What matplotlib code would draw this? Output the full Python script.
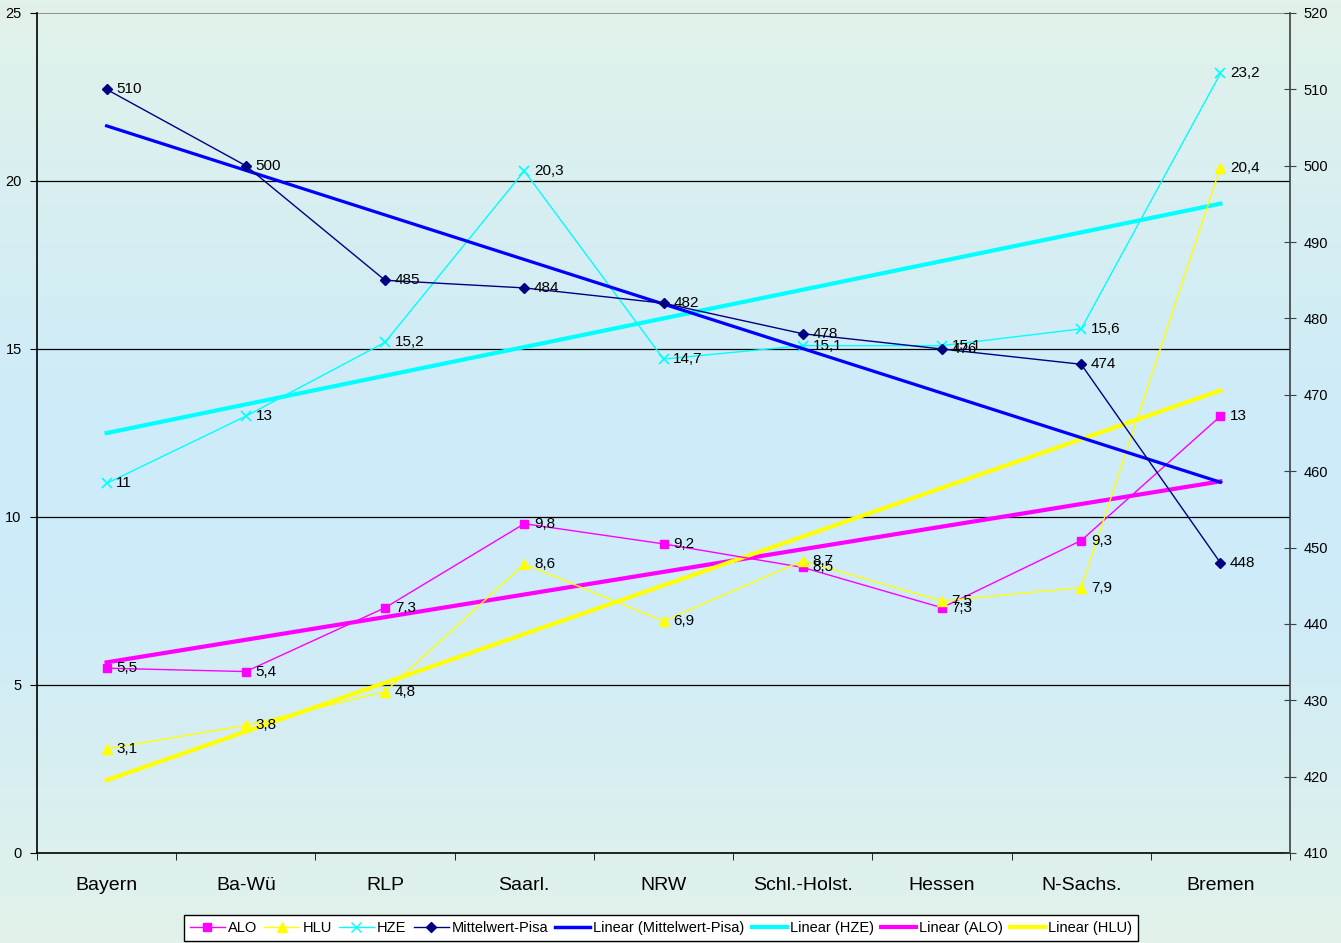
import numpy as np
import matplotlib
matplotlib.use("Agg")
import matplotlib.pyplot as plt
from matplotlib.colors import LinearSegmentedColormap
from matplotlib.lines import Line2D

plt.rcParams['font.family'] = ['Liberation Sans', 'DejaVu Sans']

categories = ["Bayern", "Ba-Wü", "RLP", "Saarl.", "NRW", "Schl.-Holst.", "Hessen", "N-Sachs.", "Bremen"]
alo = [5.5, 5.4, 7.3, 9.8, 9.2, 8.5, 7.3, 9.3, 13]
hlu = [3.1, 3.8, 4.8, 8.6, 6.9, 8.7, 7.5, 7.9, 20.4]
hze = [11, 13, 15.2, 20.3, 14.7, 15.1, 15.1, 15.6, 23.2]
pisa = [510, 500, 485, 484, 482, 478, 476, 474, 448]

W, H = 1341, 943
fig = plt.figure(figsize=(W / 100, H / 100), dpi=100)

# background gradient
bg = fig.add_axes([0, 0, 1, 1], zorder=-10)
cmap = LinearSegmentedColormap.from_list("bg", [(0.0, "#e2f2ea"), (0.45, "#cdebf9"), (0.62, "#cdebf9"), (1.0, "#e2f2ea")])
grad = np.linspace(0, 1, 256).reshape(-1, 1)
bg.imshow(grad, aspect="auto", cmap=cmap, extent=[0, 1, 0, 1])
bg.axis("off")

left, right = 37 / W, 1290 / W
bottom, top = 1 - 853 / H, 1 - 13 / H
ax = fig.add_axes([left, bottom, right - left, top - bottom])
ax.patch.set_alpha(0)
ax2 = ax.twinx()
ax2.patch.set_alpha(0)

x = np.arange(len(categories))

def fmt(v):
    s = ("%g" % v).replace(".", ",")
    return s

# data series
c_alo, c_hlu, c_hze, c_pisa = "#ff00ff", "#ffff00", "#00ffff", "#000080"
ax.plot(x, alo, color=c_alo, lw=1, marker="s", ms=6, mec=c_alo, mfc=c_alo, zorder=3)
ax.plot(x, hlu, color=c_hlu, lw=1, marker="^", ms=7, mec=c_hlu, mfc=c_hlu, zorder=3)
ax.plot(x, hze, color=c_hze, lw=1, marker="x", ms=7, mew=1.2, mec=c_hze, zorder=3)
ax2.plot(x, pisa, color=c_pisa, lw=1, marker="D", ms=5, mec=c_pisa, mfc=c_pisa, zorder=3)

# linear trendlines
xf = x + 1.0
for vals, col, a in [(hze, c_hze, ax), (alo, c_alo, ax), (hlu, c_hlu, ax)]:
    p = np.polyfit(xf, vals, 1)
    a.plot(x, np.polyval(p, xf), color=col, lw=3, zorder=2)
p = np.polyfit(xf, pisa, 1)
ax2.plot(x, np.polyval(p, xf), color="#0000ff", lw=2.3, zorder=2)

# labels
for series, a in [(alo, ax), (hlu, ax), (hze, ax), (pisa, ax2)]:
    for xi, v in zip(x, series):
        a.annotate(fmt(v), (xi, v), xytext=(7, 0), textcoords="offset points",
                   ha="left", va="center", fontsize=11, color="black", zorder=5)

ax.set_xlim(-0.5, len(categories) - 0.5)
ax.set_ylim(0, 25)
ax2.set_ylim(410, 520)
ax.set_yticks(np.arange(0, 26, 5))
ax2.set_yticks(np.arange(410, 521, 10))
ax.set_xticks(x)
ax.set_xticklabels(categories, fontsize=14)
ax.set_xticks(np.arange(-0.5, len(categories)), minor=True)
ax.tick_params(axis="x", which="major", length=0, pad=17)
ax.tick_params(axis="x", which="minor", length=5, direction="out", color="black")
ax.tick_params(axis="y", labelsize=10.5, length=5, direction="out", pad=6)
ax2.tick_params(axis="y", labelsize=10.5, length=8, direction="inout", pad=6, color="#404040")

for a in (ax, ax2):
    a.spines["top"].set_visible(False)
ax.spines["right"].set_visible(False)
ax2.spines["left"].set_visible(False)
ax2.spines["bottom"].set_visible(False)
ax2.spines["right"].set_color("#404040")
ax2.spines["right"].set_linewidth(1.2)
ax.spines["left"].set_linewidth(1.2)
ax.spines["bottom"].set_linewidth(1.2)

for yv in [5, 10, 15, 20]:
    ax.axhline(yv, color="black", lw=0.9, zorder=1)
ax.axhline(25, color="#808080", lw=1.2, zorder=1)

handles = [
    Line2D([], [], color=c_alo, lw=1, marker="s", ms=6, mfc=c_alo, mec=c_alo),
    Line2D([], [], color=c_hlu, lw=1, marker="^", ms=7, mfc=c_hlu, mec=c_hlu),
    Line2D([], [], color=c_hze, lw=1, marker="x", ms=7, mec=c_hze),
    Line2D([], [], color=c_pisa, lw=1, marker="D", ms=5, mfc=c_pisa, mec=c_pisa),
    Line2D([], [], color="#0000ff", lw=2.5),
    Line2D([], [], color=c_hze, lw=3),
    Line2D([], [], color=c_alo, lw=3),
    Line2D([], [], color=c_hlu, lw=3),
]
labels = ["ALO", "HLU", "HZE", "Mittelwert-Pisa", "Linear (Mittelwert-Pisa)", "Linear (HZE)", "Linear (ALO)", "Linear (HLU)"]
leg = fig.legend(handles, labels, loc="upper center", bbox_to_anchor=(661 / W, 1 - 915 / H), ncol=8,
                 fontsize=10.5, frameon=True, fancybox=False, edgecolor="black", framealpha=1,
                 handlelength=2.4, handletextpad=0.2, columnspacing=0.5, borderpad=0.4, borderaxespad=0)
leg.get_frame().set_linewidth(1.0)

fig.savefig("out.png", dpi=100)
